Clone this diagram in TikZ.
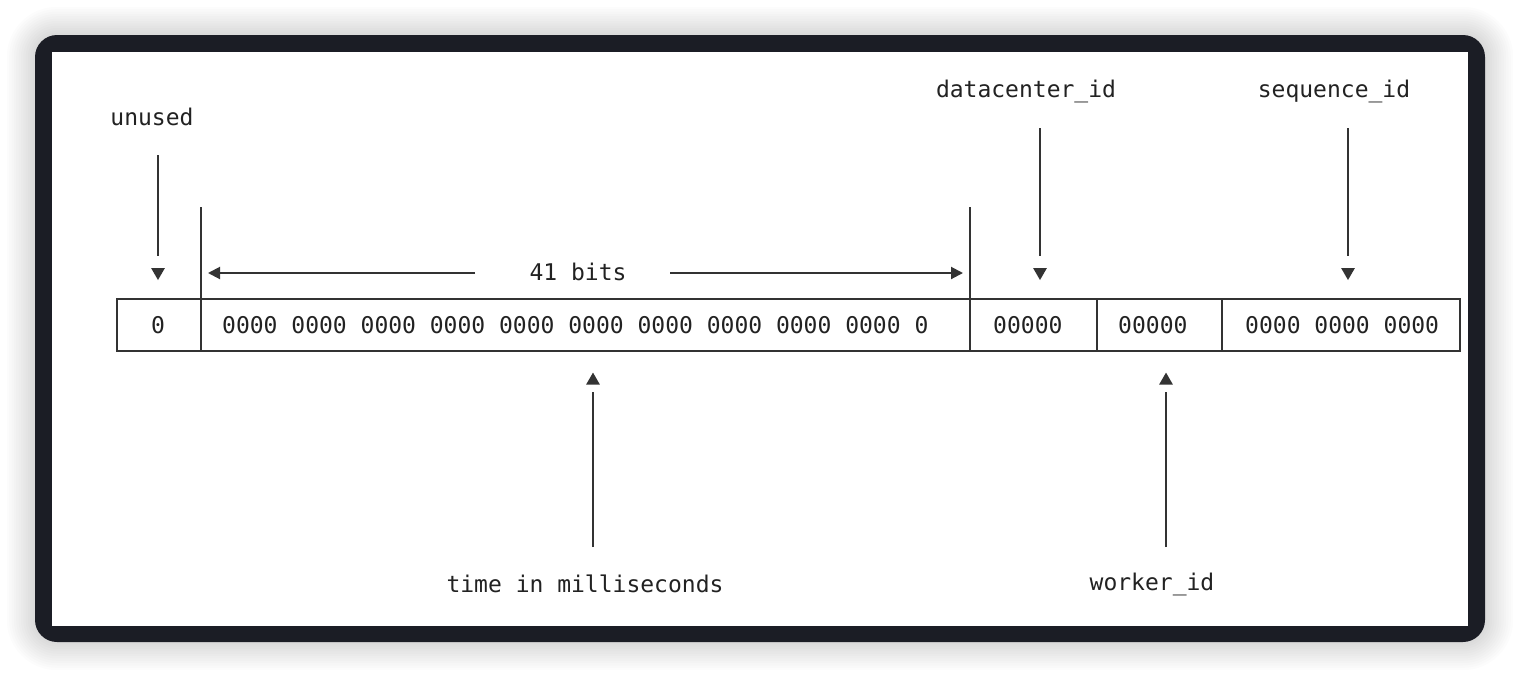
\documentclass[tikz,border=0pt]{standalone}
\usepackage{fontspec}
\setmonofont{DejaVu Sans Mono}
\usetikzlibrary{arrows.meta,shapes.geometric}
\definecolor{framec}{HTML}{1B1D25}
\definecolor{linec}{HTML}{333333}
\definecolor{textc}{HTML}{222222}
\tikzset{
  lbl/.style={font=\fontsize{23}{27}\selectfont\ttfamily, text=textc, inner sep=0pt},
  bits/.style={lbl, anchor=west},
  conn/.style={draw=linec, line width=2pt},
  tridown/.style={regular polygon, regular polygon sides=3, shape border rotate=180,
    fill=linec, draw=none, inner sep=0pt, outer sep=0pt, minimum size=16pt},
  triup/.style={regular polygon, regular polygon sides=3,
    fill=linec, draw=none, inner sep=0pt, outer sep=0pt, minimum size=16pt},
  cell/.style={draw=linec, line width=2pt, minimum height=52pt, minimum width=#1,
    anchor=north west, outer sep=0pt, inner sep=0pt},
  bitarrow/.style={conn, -{Triangle[width=12pt,length=12pt]}},
}
\begin{document}
\begin{tikzpicture}[x=1pt,y=-1pt]
\useasboundingbox (0,0) rectangle (1520,678);
% soft shadow
\foreach \i in {1,...,12} {
  \pgfmathsetmacro{\d}{\i*2.35}
  \pgfmathsetmacro{\r}{22+\i*2.35}
  \fill[black, fill opacity=0.012, rounded corners=\r pt]
    (35-\d,35-\d) rectangle (1485+\d,642+\d);
}
% frame
\fill[framec, rounded corners=22pt] (35,35) rectangle (1485,642);
\fill[white] (52,52) rectangle (1468,626);

% cells
\node[cell=84pt] (c1) at (117,299) {};
\node[cell=769pt] (c2) at (201,299) {};
\node[cell=127pt] (c3) at (970,299) {};
\node[cell=125pt] (c4) at (1097,299) {};
\node[cell=238pt] (c5) at (1222,299) {};
\node[bits] (t1) at (151,325) {0};
\node[bits] (t2) at (222,325) {0000 0000 0000 0000 0000 0000 0000 0000 0000 0000 0};
\node[bits] (t3) at (993,325) {00000};
\node[bits] (t4) at (1118,325) {00000};
\node[bits] (t5) at (1245,325) {0000 0000 0000};

% divider extensions
\draw[conn] (c2.north west) -- ++(0,-92);
\draw[conn] (c3.north west) -- ++(0,-92);

% 41 bits
\node[lbl] (bitslbl) at (578,272) {41 bits};
\coordinate (bl) at (208,273);
\coordinate (br) at (963,273);
\draw[bitarrow, shorten <=103pt] (bitslbl.center |- bl) -- (bl);
\draw[bitarrow, shorten <=92pt] (bitslbl.center |- br) -- (br);

% top labels
\node[lbl] (unused) at (152,117) {unused};
\node[lbl] (dc) at (1026,91) {datacenter\_id};
\node[lbl] (seq) at (1334,91) {sequence\_id};
\node[tridown] (ua) at (158,272) {};
\node[tridown] (da) at (1040,272) {};
\node[tridown] (sa) at (1348,272) {};
\draw[conn, shorten <=38pt, shorten >=12pt] (ua |- unused) -- (ua);
\draw[conn, shorten <=37pt, shorten >=12pt] (da |- dc) -- (da);
\draw[conn, shorten <=37pt, shorten >=12pt] (sa |- seq) -- (sa);

% bottom labels
\node[lbl] (time) at (585,584) {time in milliseconds};
\node[lbl] (worker) at (1152,584) {worker\_id};
\node[triup] (ta) at (593,380.6) {};
\node[triup] (wa) at (1166,380.6) {};
\draw[conn, shorten <=37pt, shorten >=7.4pt] (ta |- time) -- (ta);
\draw[conn, shorten <=37pt, shorten >=7.4pt] (wa |- worker) -- (wa);
\end{tikzpicture}
\end{document}
